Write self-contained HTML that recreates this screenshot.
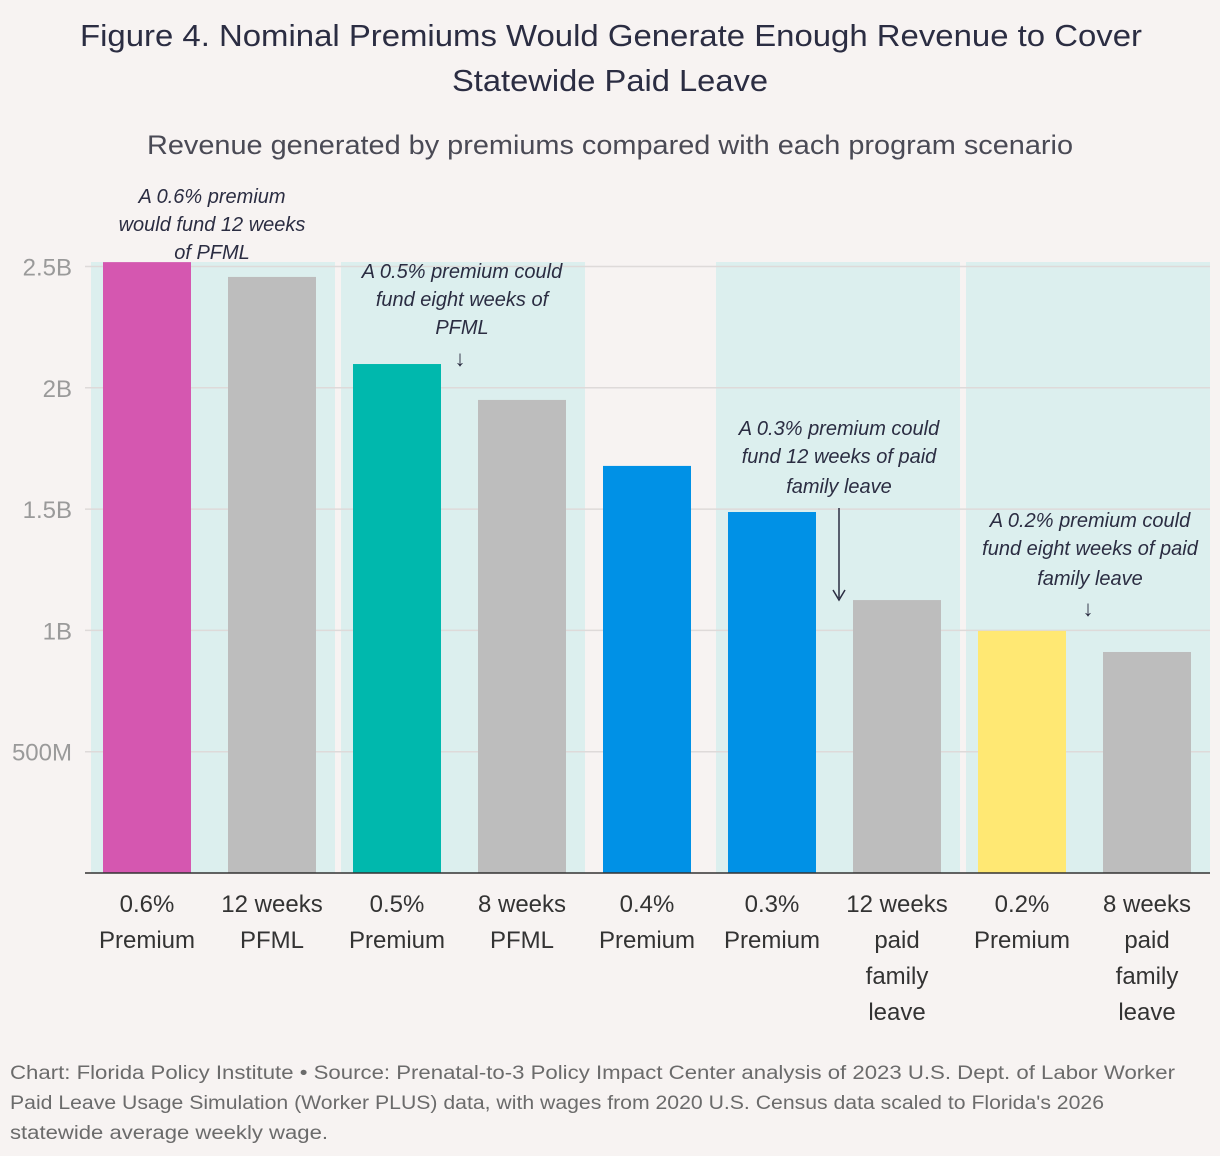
<!DOCTYPE html>
<html><head><meta charset="utf-8">
<style>
body{margin:0;background:#f7f3f2;width:1220px;height:1156px;overflow:hidden;font-family:"Liberation Sans",sans-serif;}
svg{position:absolute;left:0;top:0}
</style></head>
<body>
<svg id="chart" width="1220" height="1156">
<text x="80" y="46" textLength="1062" lengthAdjust="spacingAndGlyphs" font-size="31" fill="#2b2d42">Figure 4. Nominal Premiums Would Generate Enough Revenue to Cover</text>
<text x="452" y="91" textLength="316" lengthAdjust="spacingAndGlyphs" font-size="31" fill="#2b2d42">Statewide Paid Leave</text>
<text x="147" y="154" textLength="926" lengthAdjust="spacingAndGlyphs" font-size="27" fill="#4a4a55">Revenue generated by premiums compared with each program scenario</text>
<g id="shades"></g><g id="grid"></g><g id="bars"></g><g id="xlabels"></g>
<g font-style="italic" font-size="20" fill="#2b2d42" text-anchor="middle">
<text x="212" y="203">A 0.6% premium</text><text x="212" y="231">would fund 12 weeks</text><text x="212" y="259">of PFML</text>
<text x="462" y="278">A 0.5% premium could</text><text x="462" y="306">fund eight weeks of</text><text x="462" y="334">PFML</text>
<text x="460" y="366" font-style="normal" font-size="22">↓</text>
<text x="839" y="435">A 0.3% premium could</text><text x="839" y="463">fund 12 weeks of paid</text><text x="839" y="493">family leave</text>
<line x1="839" y1="508" x2="839" y2="598" stroke="#2b2d42" stroke-width="1.5"/><path d="M833 590 L839 600 L845 590" fill="none" stroke="#2b2d42" stroke-width="1.5"/>
<text x="1090" y="527">A 0.2% premium could</text><text x="1090" y="555">fund eight weeks of paid</text><text x="1090" y="585">family leave</text>
<text x="1088" y="616" font-style="normal" font-size="22">↓</text>
</g>
<line x1="85" y1="873" x2="1210" y2="873" stroke="#333" stroke-width="1.5"/>
<g font-size="19" fill="#6b6b6b">
<text x="10" y="1079" textLength="1165" lengthAdjust="spacingAndGlyphs">Chart: Florida Policy Institute • Source: Prenatal-to-3 Policy Impact Center analysis of 2023 U.S. Dept. of Labor Worker</text>
<text x="10" y="1109" textLength="1094" lengthAdjust="spacingAndGlyphs">Paid Leave Usage Simulation (Worker PLUS) data, with wages from 2020 U.S. Census data scaled to Florida's 2026</text>
<text x="10" y="1139" textLength="318" lengthAdjust="spacingAndGlyphs">statewide average weekly wage.</text>
</g>
</svg>
<script>
const categories=[["0.6%","Premium"],["12 weeks","PFML"],["0.5%","Premium"],["8 weeks","PFML"],["0.4%","Premium"],["0.3%","Premium"],["12 weeks","paid","family","leave"],["0.2%","Premium"],["8 weeks","paid","family","leave"]];
const values=[2.518,2.457,2.098,1.95,1.678,1.488,1.125,0.998,0.911];
const colors=["#d557b0","#bdbdbd","#00b8ad","#bdbdbd","#0091e6","#0091e6","#bdbdbd","#ffe873","#bdbdbd"];
const tickValues=[0.5,1,1.5,2,2.5];
const tickLabels=["500M","1B","1.5B","2B","2.5B"];
const shadeGroups=[[0,1],[2,3],[5,6],[7,8]];
const NS="http://www.w3.org/2000/svg";
const y=v=>873-v*242.6;
const x0=85,band=125;
const xc=i=>x0+band*i+62;
function mk(t,a,p){const e=document.createElementNS(NS,t);for(const k in a)e.setAttribute(k,a[k]);p.appendChild(e);return e;}
const sh=document.getElementById('shades');
shadeGroups.forEach((g,j)=>{const r=mk('rect',{x:x0+band*g[0]+6,y:262,width:band*(g[1]-g[0]+1)-6,height:611,fill:'#dcefee'},sh);

});
const gr=document.getElementById('grid');
tickValues.forEach((v,i)=>{const l=mk('line',{x1:85,x2:1210,y1:y(v),y2:y(v),stroke:'#dedad9','stroke-width':1.5},gr);


const t=mk('text',{x:72,y:y(v)+9,'text-anchor':'end','font-size':24,fill:'#9a9a9a'},gr);t.textContent=tickLabels[i];

});
const bg=document.getElementById('bars'),xl=document.getElementById('xlabels');
values.forEach((v,i)=>{const r=mk('rect',{x:xc(i)-44,y:y(v),width:88,height:873-y(v),fill:colors[i]},bg);


categories[i].forEach((s,k)=>{const t=mk('text',{x:xc(i),y:912+k*36,'text-anchor':'middle','font-size':24,fill:'#333'},xl);t.textContent=s;

});});
</script>
</body></html>
